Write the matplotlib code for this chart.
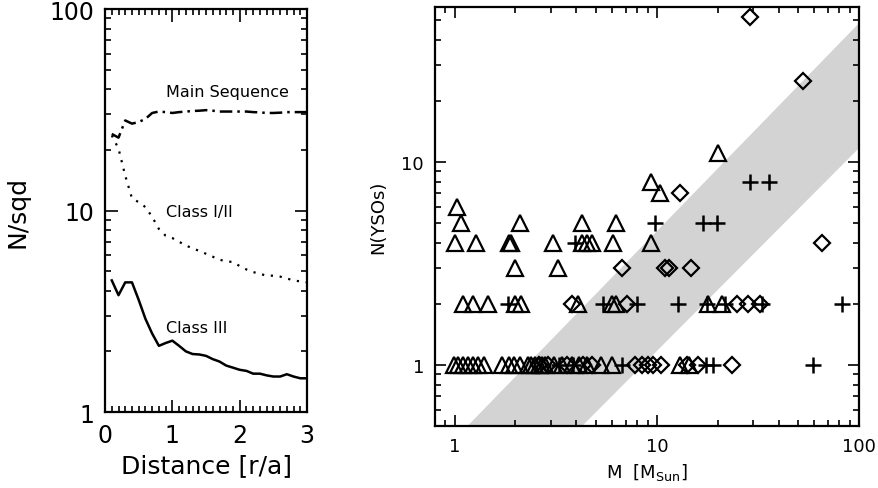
import numpy as np
import matplotlib
matplotlib.use("Agg")
import matplotlib.pyplot as plt
from matplotlib.ticker import NullFormatter, MultipleLocator

# --- left panel: surface density vs distance ---
dist = np.round(np.arange(0.1, 3.01, 0.1), 2)
main_seq = [24, 23, 28, 27, 27.5, 28.5, 30.5, 31, 30.8, 30.5, 30.8, 31, 31.2, 31.3, 31.5,
            31.3, 31, 31, 31, 31, 31, 30.8, 30.7, 30.5, 30.5, 30.6, 30.8, 30.8, 30.8, 30.8]
class12 = [23.6, 20.3, 14.9, 11.5, 11.0, 10.4, 9.3, 8.1, 7.5, 7.3, 7.0, 6.7, 6.5, 6.3, 6.1,
           5.9, 5.7, 5.6, 5.55, 5.3, 5.1, 4.95, 4.85, 4.75, 4.75, 4.7, 4.6, 4.5, 4.45, 4.4]
class3 = [4.5, 3.8, 4.4, 4.4, 3.6, 2.9, 2.45, 2.13, 2.2, 2.26, 2.13, 2.0, 1.94, 1.93, 1.9,
          1.83, 1.78, 1.7, 1.66, 1.62, 1.6, 1.55, 1.55, 1.52, 1.5, 1.5, 1.54, 1.5, 1.47, 1.47]

# --- right panel: number of YSOs vs stellar mass ---
tri_m = [0.99, 1.04, 1.1, 1.16, 1.23, 1.3, 1.4, 1.72, 1.85, 1.97, 2.1, 2.3, 2.4, 2.5, 2.6,
         2.7, 2.8, 3.1, 3.4, 3.8, 4.1, 4.5, 5.3, 6.0, 13.0, 14.5,
         1.1, 1.23, 1.46, 1.98, 2.14, 4.06, 5.98, 6.3, 17.9, 21,
         2.0, 3.24,
         1.0, 1.28, 1.85, 1.9, 3.06, 4.25, 4.5, 4.76, 6.06, 9.4,
         1.07, 2.1, 4.25, 6.3,
         1.03, 10.4, 9.4, 20]
tri_n = [1] * 26 + [2] * 10 + [3] * 2 + [4] * 10 + [5] * 4 + [6, 7, 8, 11]

dia_m = [2.6, 2.9, 3.6, 4.3, 4.8, 7.8, 8.4, 9.0, 9.6, 10.5, 14.1, 16.0, 23.5,
         3.8, 7.1, 24.9, 28.3, 32.4,
         6.7, 11.0, 11.5, 14.7,
         65.6, 13, 53, 29]
dia_n = [1] * 13 + [2] * 5 + [3] * 4 + [4, 7, 25, 52]

plus_m = [3.3, 3.85, 6.7, 17.5, 19.0, 59,
          1.83, 5.4, 7.95, 12.7, 17.7, 21.7, 33, 82,
          3.93, 9.8, 16.9, 19.8, 29, 36]
plus_n = [1] * 6 + [2] * 8 + [4, 5, 5, 5, 8, 8]

band_lo = 0.117   # N = band_lo * M
band_hi = 0.43    # N = band_hi * M**1.025

fig = plt.figure(figsize=(8.79, 4.89), dpi=100)

ax1 = fig.add_axes([0.1195, 0.1554, 0.2298, 0.824])
ax1.plot(dist, main_seq, color="black", lw=1.8, ls=(0, (5, 2, 1, 2)))
ax1.plot(dist, class12, color="black", lw=1.6, ls=(0, (1, 3)))
ax1.plot(dist, class3, color="black", lw=1.8)
ax1.set_yscale("log")
ax1.set_xlim(0, 3)
ax1.set_ylim(1, 100)
ax1.text(0.9, 37, "Main Sequence", fontsize=11.5)
ax1.text(0.9, 9.4, "Class I/II", fontsize=11.5)
ax1.text(0.9, 2.5, "Class III", fontsize=11.5)
ax1.set_xticks([0, 1, 2, 3])
ax1.set_xticklabels(["0", "1", "2", "3"])
ax1.xaxis.set_minor_locator(MultipleLocator(0.1))
ax1.set_yticks([1, 10, 100])
ax1.set_yticklabels(["1", "10", "100"])
ax1.set_xlabel("Distance [r/a]", fontsize=18)
ax1.set_ylabel("N/sqd", fontsize=18, labelpad=14)

ax2 = fig.add_axes([0.4949, 0.1268, 0.4824, 0.857])
mm = np.logspace(np.log10(0.8), 2, 200)
ax2.fill_between(mm, band_lo * mm, band_hi * mm ** 1.025, color="#d3d3d3", lw=0)
ax2.plot(tri_m, tri_n, ls="none", marker="^", ms=11, mfc="none", mec="black", mew=1.6)
ax2.plot(dia_m, dia_n, ls="none", marker="D", ms=8.5, mfc="none", mec="black", mew=1.6)
ax2.plot(plus_m, plus_n, ls="none", marker="+", ms=11, mec="black", mew=1.8)
ax2.set_xscale("log")
ax2.set_yscale("log")
ax2.set_xlim(0.8, 100)
ax2.set_ylim(0.5, 58)
ax2.set_xticks([1, 10, 100])
ax2.set_xticklabels(["1", "10", "100"])
ax2.set_yticks([1, 10])
ax2.set_yticklabels(["1", "10"])
ax2.xaxis.set_minor_formatter(NullFormatter())
ax2.yaxis.set_minor_formatter(NullFormatter())
ax2.set_xlabel(r"M  [M$_{\rm Sun}$]", fontsize=13)
ax2.set_ylabel("N(YSOs)", fontsize=13, labelpad=10)

for ax, fs, ml in [(ax1, 17, 9), (ax2, 13, 8)]:
    ax.tick_params(which="both", direction="in", top=True, right=True, labelsize=fs, width=1.2)
    ax.tick_params(which="major", length=ml, pad=8)
    ax.tick_params(which="minor", length=ml / 2)
    for s in ax.spines.values():
        s.set_linewidth(1.6)

fig.savefig("out.png", dpi=100)
